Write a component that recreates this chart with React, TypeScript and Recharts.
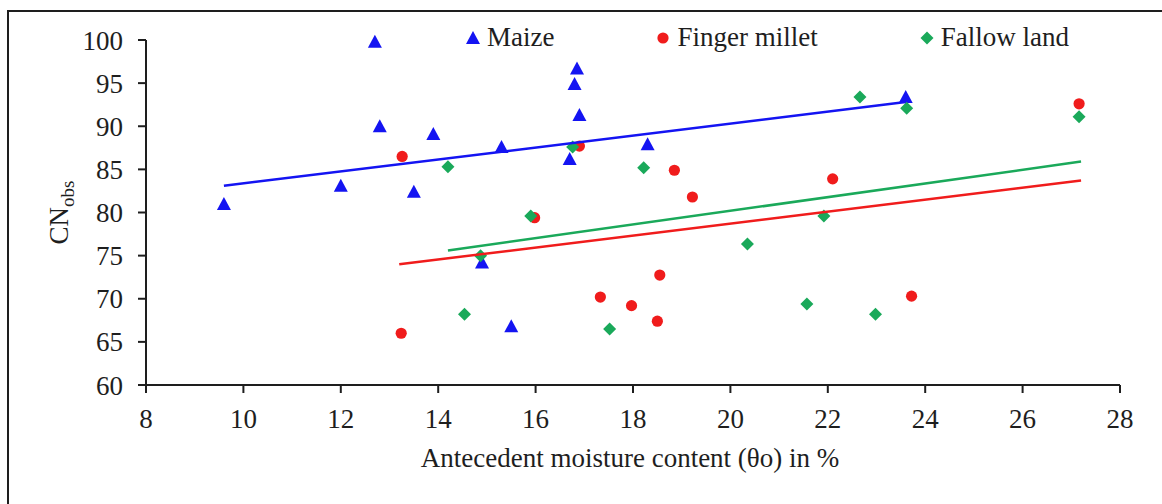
import { Label, Scatter, ScatterChart, XAxis, YAxis } from "recharts";

// Observed CN against antecedent moisture, one list per land use
const maizePoints = [
  { x: 9.6, y: 81.0 },
  { x: 12.0, y: 83.1 },
  { x: 12.7, y: 99.8 },
  { x: 12.8, y: 90.0 },
  { x: 13.5, y: 82.4 },
  { x: 13.9, y: 89.1 },
  { x: 14.9, y: 74.2 },
  { x: 15.3, y: 87.6 },
  { x: 15.5, y: 66.8 },
  { x: 16.7, y: 86.2 },
  { x: 16.8, y: 94.9 },
  { x: 16.85, y: 96.7 },
  { x: 16.9, y: 91.3 },
  { x: 18.3, y: 87.9 },
  { x: 23.6, y: 93.4 },
];

const milletPoints = [
  { x: 13.24, y: 66.0 },
  { x: 13.26, y: 86.5 },
  { x: 15.98, y: 79.4 },
  { x: 16.9, y: 87.7 },
  { x: 17.33, y: 70.2 },
  { x: 17.97, y: 69.2 },
  { x: 18.5, y: 67.4 },
  { x: 18.55, y: 72.75 },
  { x: 18.85, y: 84.9 },
  { x: 19.22, y: 81.8 },
  { x: 22.1, y: 83.9 },
  { x: 23.72, y: 70.3 },
  { x: 27.16, y: 92.6 },
];

const fallowPoints = [
  { x: 14.2, y: 85.3 },
  { x: 14.54, y: 68.2 },
  { x: 14.87, y: 75.0 },
  { x: 15.9, y: 79.6 },
  { x: 16.76, y: 87.6 },
  { x: 17.52, y: 66.5 },
  { x: 18.22, y: 85.2 },
  { x: 20.35, y: 76.35 },
  { x: 21.57, y: 69.4 },
  { x: 21.92, y: 79.6 },
  { x: 22.66, y: 93.4 },
  { x: 22.98, y: 68.2 },
  { x: 23.62, y: 92.1 },
  { x: 27.16, y: 91.1 },
];

// Linear trend end points
const maizeTrend = [
  { x: 9.6, y: 83.1 },
  { x: 23.6, y: 92.8 },
];
const milletTrend = [
  { x: 13.2, y: 74.0 },
  { x: 27.2, y: 83.7 },
];
const fallowTrend = [
  { x: 14.2, y: 75.6 },
  { x: 27.2, y: 85.9 },
];

const xTicks = [8, 10, 12, 14, 16, 18, 20, 22, 24, 26, 28];
const yTicks = [60, 65, 70, 75, 80, 85, 90, 95, 100];

const BLUE = "#1414f2";
const RED = "#f01c1c";
const GREEN = "#1aa95a";
const INK = "#1e1e1e";
const FONT = '"Liberation Serif", "Times New Roman", serif';

type MarkProps = { cx?: number; cy?: number; fill?: string };

const Triangle = ({ cx = 0, cy = 0, fill }: MarkProps) => (
  <polygon points={`${cx},${cy - 7} ${cx + 7},${cy + 6} ${cx - 7},${cy + 6}`} fill={fill} />
);

const Dot = ({ cx = 0, cy = 0, fill }: MarkProps) => <circle cx={cx} cy={cy} r={5.6} fill={fill} />;

const Diamond = ({ cx = 0, cy = 0, fill }: MarkProps) => (
  <polygon points={`${cx},${cy - 6.5} ${cx + 6.5},${cy} ${cx},${cy + 6.5} ${cx - 6.5},${cy}`} fill={fill} />
);

const NoMark = () => <g />;

const legendItems = [
  { name: "Maize", color: BLUE, Mark: Triangle },
  { name: "Finger millet", color: RED, Mark: Dot },
  { name: "Fallow land", color: GREEN, Mark: Diamond },
];

function LegendRow() {
  return (
    <div
      style={{
        position: "absolute",
        left: 465,
        top: 22,
        display: "flex",
        gap: 101,
        fontFamily: FONT,
        fontSize: 27,
        color: INK,
        lineHeight: "31px",
      }}
    >
      {legendItems.map(({ name, color, Mark }) => (
        <div key={name} style={{ display: "flex", alignItems: "center" }}>
          <svg width={16} height={16} style={{ marginRight: 6 }}>
            <Mark cx={8} cy={8} fill={color} />
          </svg>
          <span>{name}</span>
        </div>
      ))}
    </div>
  );
}

function YTitle({ viewBox }: any) {
  const x = viewBox.x + 68;
  const y = viewBox.y + viewBox.height / 2 + 32;
  return (
    <text transform={`translate(${x},${y}) rotate(-90)`} fontFamily={FONT} fill={INK} fontSize={27}>
      <tspan>CN</tspan>
      <tspan fontSize={19} dy={6}>
        obs
      </tspan>
    </text>
  );
}

function XTitle({ viewBox }: any) {
  const x = viewBox.x + viewBox.width / 2 - 3;
  return (
    <text x={x} y={467} textAnchor="middle" fontFamily={FONT} fill={INK} fontSize={27}>
      Antecedent moisture content (θo) in %
    </text>
  );
}

const tickStyle = { fontSize: 27, fill: INK, fontFamily: FONT };
const axisLine = { stroke: INK, strokeWidth: 2 };

export default function App() {
  return (
    <div style={{ position: "absolute", left: 0, top: 0, width: 1162, height: 504, background: "#fff", overflow: "hidden" }}>
      <div
        style={{
          position: "absolute",
          left: 7,
          top: 10,
          right: -4,
          bottom: -4,
          borderTop: `2px solid ${INK}`,
          borderLeft: `2px solid ${INK}`,
        }}
      />
      <ScatterChart width={1162} height={504} margin={{ top: 40, right: 42, bottom: 0, left: 0 }}>
        <XAxis
          type="number"
          dataKey="x"
          domain={[8, 28]}
          ticks={xTicks}
          height={119}
          tick={tickStyle}
          tickSize={8}
          tickMargin={16}
          axisLine={axisLine}
          tickLine={axisLine}
        >
          <Label content={XTitle} />
        </XAxis>
        <YAxis
          type="number"
          dataKey="y"
          domain={[60, 100]}
          ticks={yTicks}
          width={146}
          tick={tickStyle}
          tickSize={8}
          tickMargin={15}
          axisLine={axisLine}
          tickLine={axisLine}
        >
          <Label content={YTitle} />
        </YAxis>
        <Scatter name="Maize" data={maizePoints} fill={BLUE} shape={Triangle} isAnimationActive={false} />
        <Scatter name="Finger millet" data={milletPoints} fill={RED} shape={Dot} isAnimationActive={false} />
        <Scatter name="Fallow land" data={fallowPoints} fill={GREEN} shape={Diamond} isAnimationActive={false} />
        <Scatter
          data={maizeTrend}
          line={{ stroke: BLUE, strokeWidth: 2.5 }}
          lineType="joint"
          shape={NoMark}
          legendType="none"
          isAnimationActive={false}
        />
        <Scatter
          data={milletTrend}
          line={{ stroke: RED, strokeWidth: 2.5 }}
          lineType="joint"
          shape={NoMark}
          legendType="none"
          isAnimationActive={false}
        />
        <Scatter
          data={fallowTrend}
          line={{ stroke: GREEN, strokeWidth: 2.5 }}
          lineType="joint"
          shape={NoMark}
          legendType="none"
          isAnimationActive={false}
        />
      </ScatterChart>
      <LegendRow />
    </div>
  );
}
